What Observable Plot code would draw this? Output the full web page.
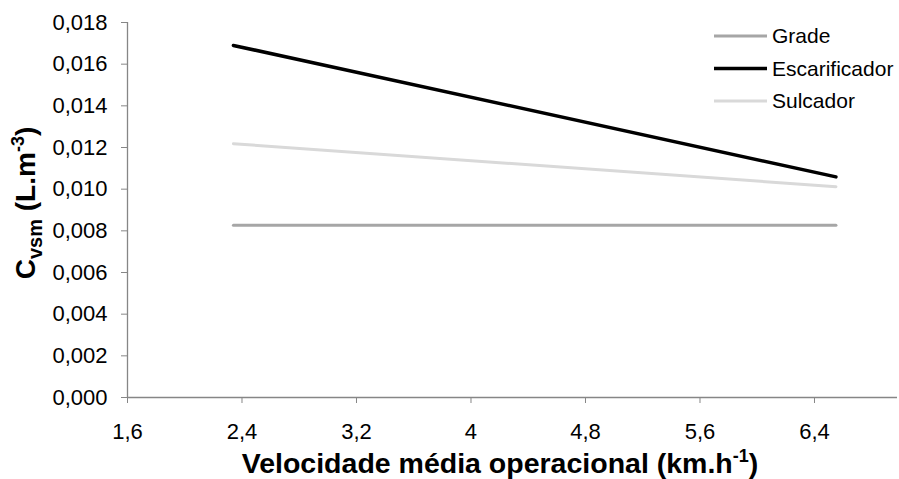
<!DOCTYPE html>
<html>
<head>
<meta charset="utf-8">
<script src="https://cdn.jsdelivr.net/npm/d3@7"></script>
<script src="https://cdn.jsdelivr.net/npm/@observablehq/plot@0.6"></script>
<style>
  html, body { margin: 0; padding: 0; background: #fff; }
  #chart { position: relative; width: 899px; height: 479px; }
  svg { font-family: "Liberation Sans", Arial, sans-serif; }
</style>
</head>
<body>
<div id="chart"></div>
<script>
// Data
const velocidades = [2.34, 6.55];
const series = ["Grade", "Escarificador", "Sulcador"];
const grade = [0.00827, 0.00827];
const escarificador = [0.0169, 0.01059];
const sulcador = [0.01218, 0.01012];
const colors = ["#a6a6a6", "#000000", "#d9d9d9"];
const xTicks = [1.6, 2.4, 3.2, 4, 4.8, 5.6, 6.4];
const yTicks = [0, 0.002, 0.004, 0.006, 0.008, 0.010, 0.012, 0.014, 0.016, 0.018];

const values = [grade, escarificador, sulcador];
const rows = [];
series.forEach((s, i) => velocidades.forEach((v, j) => rows.push({serie: s, x: v, y: values[i][j]})));

const fmtX = d => d3.format("~g")(d).replace(".", ",");
const fmtY = d => d3.format(".3f")(d).replace(".", ",");

const W = 899, H = 479;
const mL = 127, mR = 2, mT = 22, mB = 82;

const plot = Plot.plot({
  width: W, height: H,
  marginLeft: mL, marginRight: mR, marginTop: mT, marginBottom: mB,
  style: {fontFamily: '"Liberation Sans", Arial, sans-serif', fontSize: "22px", color: "#000", background: "#fff"},
  x: {domain: [1.6, 6.98]},
  y: {domain: [0, 0.018]},
  color: {domain: series, range: colors},
  marks: [
    Plot.ruleY([0], {stroke: "#868686", strokeWidth: 1.3}),
    Plot.ruleX([1.6], {stroke: "#868686", strokeWidth: 1.3}),
    Plot.axisX({ticks: xTicks, tickFormat: fmtX, tickSize: 6, tickPadding: 20, stroke: "#868686", label: null, fontSize: 22}),
    Plot.axisY({ticks: yTicks, tickFormat: fmtY, tickSize: 6, tickPadding: 14, stroke: "#868686", label: null, fontSize: 22}),
    Plot.line(rows, {x: "x", y: "y", z: "serie", stroke: "serie", strokeWidth: d => d.serie === "Escarificador" ? 3.5 : 3, strokeLinecap: "round"})
  ]
});
document.getElementById("chart").appendChild(plot);

const svg = d3.select(plot);
// x axis title
const xt = svg.append("text")
  .attr("x", 500).attr("y", 473)
  .attr("text-anchor", "middle")
  .attr("font-weight", "bold").attr("font-size", 28.5).attr("fill", "#000");
xt.append("tspan").text("Velocidade média operacional (km.h");
xt.append("tspan").attr("font-size", 18).attr("dy", -11).text("-1");
xt.append("tspan").attr("dy", 11).text(")");

// y axis title
const yt = svg.append("text")
  .attr("transform", "translate(35,203) rotate(-90)")
  .attr("text-anchor", "middle")
  .attr("font-weight", "bold").attr("font-size", 28).attr("fill", "#000");
yt.append("tspan").text("C");
yt.append("tspan").attr("font-size", 20).attr("dy", 7).text("vsm");
yt.append("tspan").attr("dy", -7).text(" (L.m");
yt.append("tspan").attr("font-size", 18).attr("dy", -11).text("-3");
yt.append("tspan").attr("dy", 11).text(")");

// legend
const lg = svg.append("g").attr("text-anchor", "start");
series.forEach((s, i) => {
  const cy = 36 + i * 32.5;
  lg.append("line").attr("x1", 714).attr("x2", 767).attr("y1", cy).attr("y2", cy)
    .attr("stroke", colors[i]).attr("stroke-width", s === "Escarificador" ? 3.5 : 3);
  lg.append("text").attr("x", 772).attr("y", cy).attr("dy", "0.35em")
    .attr("text-anchor", "start")
    .attr("font-size", 21).attr("fill", "#000").text(s);
});
</script>
</body>
</html>
